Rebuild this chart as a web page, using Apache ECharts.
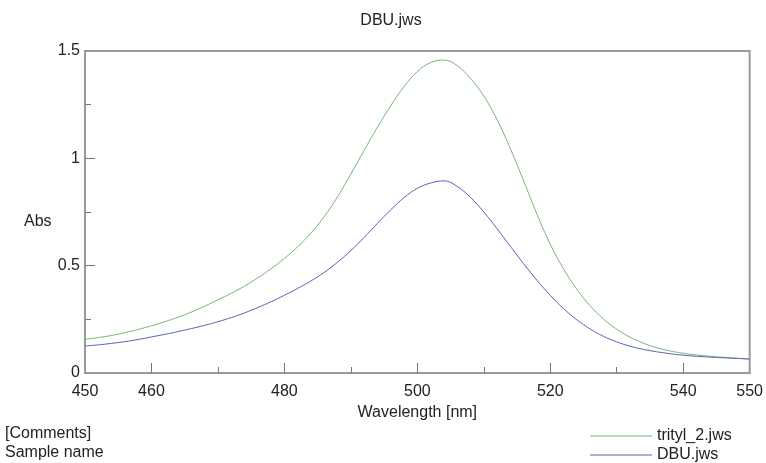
<!DOCTYPE html>
<html>
<head>
<meta charset="utf-8">
<title>DBU.jws</title>
<script src="https://cdn.jsdelivr.net/npm/echarts@6/dist/echarts.min.js"></script>
<style>
  html, body { margin: 0; padding: 0; background: #fff; }
  #chart { width: 766px; height: 463px; }
</style>
</head>
<body>
<div id="chart"></div>
<script>
// wavelength grid (nm)
const wavelengths = [
  450, 452, 454, 456, 458, 460, 462, 464, 466, 468,
  470, 472, 474, 476, 478, 480, 482, 484, 486, 488,
  490, 492, 494, 496, 498, 500, 502, 504, 506, 508,
  510, 512, 514, 516, 518, 520, 522, 524, 526, 528,
  530, 532, 534, 536, 538, 540, 542, 544, 546, 548, 550
];

// trityl_2.jws absorbance
const tritylAbs = [
  0.157, 0.165, 0.175, 0.188, 0.203, 0.220, 0.239, 0.260, 0.284, 0.311,
  0.341, 0.371, 0.405, 0.443, 0.486, 0.534, 0.588, 0.652, 0.729, 0.821,
  0.927, 1.037, 1.145, 1.245, 1.334, 1.404, 1.446, 1.458, 1.432, 1.372,
  1.290, 1.180, 1.045, 0.895, 0.740, 0.600, 0.485, 0.390, 0.313, 0.252,
  0.204, 0.167, 0.139, 0.118, 0.103, 0.092, 0.084, 0.078, 0.073, 0.069, 0.065
];

// DBU.jws absorbance
const dbuAbs = [
  0.126, 0.131, 0.138, 0.146, 0.156, 0.168, 0.180, 0.193, 0.207, 0.222,
  0.239, 0.258, 0.280, 0.305, 0.332, 0.362, 0.394, 0.429, 0.469, 0.516,
  0.570, 0.632, 0.697, 0.760, 0.817, 0.860, 0.885, 0.895, 0.869, 0.818,
  0.750, 0.672, 0.590, 0.509, 0.432, 0.362, 0.300, 0.248, 0.205, 0.171,
  0.145, 0.125, 0.110, 0.099, 0.090, 0.083, 0.078, 0.074, 0.071, 0.068, 0.065
];

// tick / label positions
const xLabelValues = [450, 460, 480, 500, 520, 540, 550];
const xMajorTicks = [460, 480, 500, 520, 540];
const xMinorTicks = [470, 490, 510, 530];
const yLabelValues = [0, 0.5, 1, 1.5];
const yMajorTicks = [0.5, 1];
const yMinorTicks = [0.25, 0.75, 1.25];

const seriesNames = ['trityl_2.jws', 'DBU.jws'];
const seriesColors = ['#76b676', '#5f5fb7'];

const FONT = 'Liberation Sans, Arial, sans-serif';
const AXIS_GRAY = '#9a9a9a';

const pairs = (ys) => wavelengths.map((w, i) => [w, ys[i]]);

const chart = echarts.init(document.getElementById('chart'), null, { renderer: 'canvas' });

const option = {
  backgroundColor: '#fff',
  animation: false,
  textStyle: { fontFamily: FONT },
  title: {
    text: 'DBU.jws',
    left: 391,
    top: 13,
    textAlign: 'center',
    padding: 0,
    textStyle: { fontFamily: FONT, fontSize: 16, fontWeight: 'normal', color: '#222' }
  },
  legend: {
    orient: 'vertical',
    left: 590,
    top: 428,
    padding: 0,
    itemWidth: 62,
    itemHeight: 1,
    itemGap: 3,
    icon: 'rect',
    data: seriesNames,
    textStyle: { fontFamily: FONT, fontSize: 16, color: '#222', lineHeight: 16 }
  },
  grid: {
    left: 85, right: 16, top: 51, bottom: 90,
    show: true,
    borderColor: AXIS_GRAY,
    borderWidth: 2,
    containLabel: false
  },
  xAxis: [
    {
      type: 'value',
      min: 450, max: 550, interval: 10,
      name: 'Wavelength [nm]',
      nameLocation: 'middle',
      nameGap: 31,
      nameTextStyle: { fontFamily: FONT, fontSize: 16, color: '#222' },
      axisLine: { lineStyle: { color: AXIS_GRAY, width: 2 } },
      axisTick: { inside: true, length: 10, customValues: xMajorTicks, lineStyle: { color: '#777', width: 1 } },
      axisLabel: { customValues: xLabelValues, fontFamily: FONT, fontSize: 16, color: '#222', margin: 11 },
      splitLine: { show: false }
    },
    {
      type: 'value',
      min: 450, max: 550, interval: 10,
      position: 'bottom',
      axisLine: { show: false },
      axisTick: { inside: true, length: 6, customValues: xMinorTicks, lineStyle: { color: '#777', width: 1 } },
      axisLabel: { show: false },
      splitLine: { show: false }
    }
  ],
  yAxis: [
    {
      type: 'value',
      min: 0, max: 1.5, interval: 0.25,
      axisLine: { show: true, lineStyle: { color: AXIS_GRAY, width: 2 } },
      axisTick: { show: true, inside: true, length: 10, customValues: yMajorTicks, lineStyle: { color: '#777', width: 1 } },
      axisLabel: { customValues: yLabelValues, fontFamily: FONT, fontSize: 16, color: '#222', margin: 5 },
      splitLine: { show: false }
    },
    {
      type: 'value',
      min: 0, max: 1.5, interval: 0.25,
      position: 'left',
      axisLine: { show: false },
      axisTick: { show: true, inside: true, length: 6, customValues: yMinorTicks, lineStyle: { color: '#777', width: 1 } },
      axisLabel: { show: false },
      splitLine: { show: false }
    }
  ],
  graphic: [
    {
      type: 'text', left: 24, top: 214,
      style: { text: 'Abs', font: '16px ' + FONT, fill: '#222' }
    },
    {
      type: 'text', left: 5, top: 426,
      style: { text: '[Comments]', font: '16px ' + FONT, fill: '#222' }
    },
    {
      type: 'text', left: 5, top: 445,
      style: { text: 'Sample name', font: '16px ' + FONT, fill: '#222' }
    }
  ],
  series: [
    {
      name: seriesNames[0],
      type: 'line',
      data: pairs(tritylAbs),
      smooth: 0.4,
      showSymbol: false,
      lineStyle: { color: seriesColors[0], width: 1 },
      itemStyle: { color: seriesColors[0] }
    },
    {
      name: seriesNames[1],
      type: 'line',
      data: pairs(dbuAbs),
      smooth: 0.4,
      showSymbol: false,
      lineStyle: { color: seriesColors[1], width: 1 },
      itemStyle: { color: seriesColors[1] }
    }
  ]
};

chart.setOption(option);
window.addEventListener('resize', chart.resize);
</script>
</body>
</html>
